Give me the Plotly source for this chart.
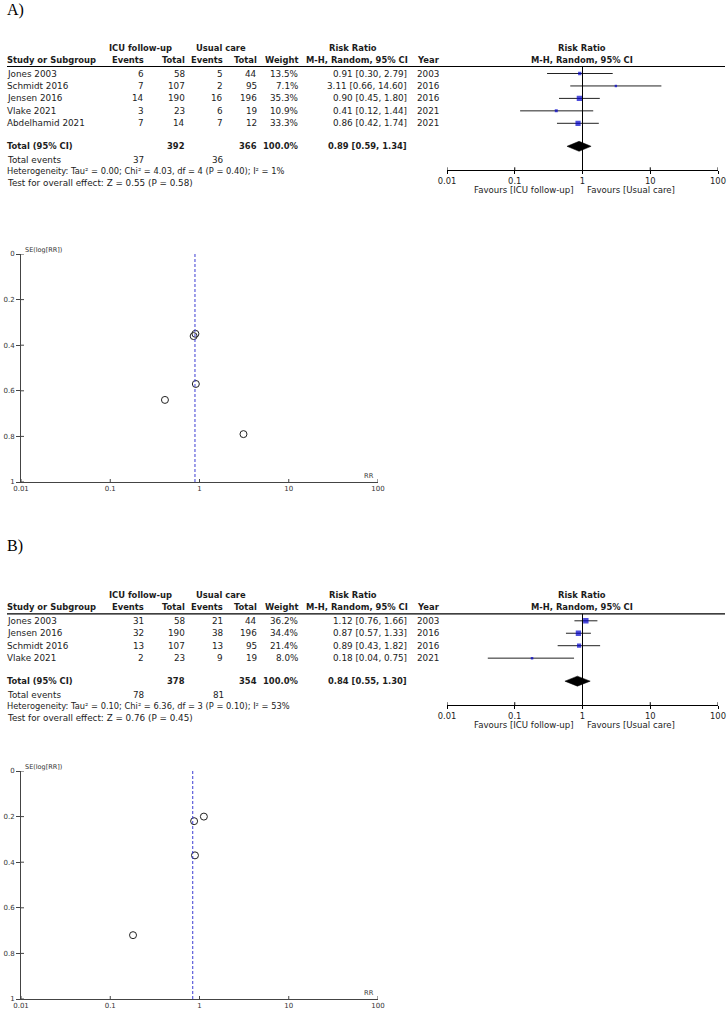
import plotly.graph_objects as go

W, H = 727, 1009

# ---------------- Panel A data ----------------
a_study = ["Jones 2003", "Schmidt 2016", "Jensen 2016", "Vlake 2021", "Abdelhamid 2021"]
a_ev1 = [6, 7, 14, 3, 7]
a_n1 = [58, 107, 190, 23, 14]
a_ev2 = [5, 2, 16, 6, 7]
a_n2 = [44, 95, 196, 19, 12]
a_weight = [13.5, 7.1, 35.3, 10.9, 33.3]
a_rr = [0.91, 3.11, 0.90, 0.41, 0.86]
a_lo = [0.30, 0.66, 0.45, 0.12, 0.42]
a_hi = [2.79, 14.60, 1.80, 1.44, 1.74]
a_year = [2003, 2016, 2016, 2021, 2021]
a_se = [0.57, 0.79, 0.35, 0.64, 0.36]
a_pooled = [0.89, 0.59, 1.34]
a_total_weight = "100.0%"
a_het = "Heterogeneity: Tau² = 0.00; Chi² = 4.03, df = 4 (P = 0.40); I² = 1%"
a_test = "Test for overall effect: Z = 0.55 (P = 0.58)"

# ---------------- Panel B data ----------------
b_study = ["Jones 2003", "Jensen 2016", "Schmidt 2016", "Vlake 2021"]
b_ev1 = [31, 32, 13, 2]
b_n1 = [58, 190, 107, 23]
b_ev2 = [21, 38, 13, 9]
b_n2 = [44, 196, 95, 19]
b_weight = [36.2, 34.4, 21.4, 8.0]
b_rr = [1.12, 0.87, 0.89, 0.18]
b_lo = [0.76, 0.57, 0.43, 0.04]
b_hi = [1.66, 1.33, 1.82, 0.75]
b_year = [2003, 2016, 2016, 2021]
b_se = [0.20, 0.22, 0.37, 0.72]
b_pooled = [0.84, 0.55, 1.30]
b_total_weight = "100.0%"
b_het = "Heterogeneity: Tau² = 0.10; Chi² = 6.36, df = 3 (P = 0.10); I² = 53%"
b_test = "Test for overall effect: Z = 0.76 (P = 0.45)"

# ---------------- Axis ticks ----------------
rr_ticks = [0.01, 0.1, 1, 10, 100]
rr_ticktext = ["0.01", "0.1", "1", "10", "100"]
se_ticks = [0, 0.2, 0.4, 0.6, 0.8, 1]
se_ticktext = ["0", "0.2", "0.4", "0.6", "0.8", "1"]

FONT = "DejaVu Sans"
TXT = "#1c1c1c"
FS = 8.8
FSB = 8.4
BLUE = "#0000cc"

fig = go.Figure()
annotations = []
shapes = []
axes = {}


def add_text(x, y, text, anchor="left", size=None, bold=False, color=TXT, family=FONT):
    if size is None:
        size = FSB if bold else FS
    annotations.append(dict(
        x=x / W, y=1 - y / H, xref="paper", yref="paper",
        text=f"<b>{text}</b>" if bold else text, showarrow=False,
        xanchor=anchor, yanchor="middle", borderpad=0, borderwidth=0,
        font=dict(family=family, size=size, color=color)))


def aname(i, letter):
    return f"{letter}axis" if i == 1 else f"{letter}axis{i}"


def aref(i, letter):
    return letter if i == 1 else f"{letter}{i}"


def build(ia, ib, label, label_y, hdr_y, funnel_top, study, ev1, n1, ev2, n2,
          weight, rr, lo, hi, year, se, pooled, total_weight, het, test):
    line2 = hdr_y + 12.3
    rule_y = hdr_y + 18.8
    rows = [hdr_y + 25.8 + i * 12.45 for i in range(len(study))]
    total_y = rows[-1] + 23
    axis_y = total_y + 24

    add_text(7, label_y, label, size=16, family="Liberation Serif", color="black")

    # header
    add_text(140, hdr_y, "ICU follow-up", "center", bold=True)
    add_text(221, hdr_y, "Usual care", "center", bold=True)
    add_text(353, hdr_y, "Risk Ratio", "center", bold=True)
    add_text(582, hdr_y, "Risk Ratio", "center", bold=True)
    add_text(7, line2, "Study or Subgroup", "left", bold=True)
    add_text(144, line2, "Events", "right", bold=True)
    add_text(185, line2, "Total", "right", bold=True)
    add_text(223, line2, "Events", "right", bold=True)
    add_text(257, line2, "Total", "right", bold=True)
    add_text(298, line2, "Weight", "right", bold=True)
    add_text(357, line2, "M-H, Random, 95% CI", "center", bold=True)
    add_text(417, line2, "Year", "left", bold=True)
    add_text(582, line2, "M-H, Random, 95% CI", "center", bold=True)
    shapes.append(dict(type="line", xref="paper", yref="paper", x0=7 / W, x1=725 / W,
                       y0=1 - rule_y / H, y1=1 - rule_y / H,
                       line=dict(color="black", width=1.2)))

    for i, s in enumerate(study):
        y = rows[i]
        add_text(7, y, s)
        add_text(144, y, str(ev1[i]), "right")
        add_text(185, y, str(n1[i]), "right")
        add_text(223, y, str(ev2[i]), "right")
        add_text(257, y, str(n2[i]), "right")
        add_text(298, y, f"{weight[i]:.1f}%", "right")
        add_text(407, y, f"{rr[i]:.2f} [{lo[i]:.2f}, {hi[i]:.2f}]", "right")
        add_text(417, y, str(year[i]), "left")

    add_text(7, total_y, "Total (95% CI)", bold=True)
    add_text(185, total_y, str(sum(n1)), "right", bold=True)
    add_text(257, total_y, str(sum(n2)), "right", bold=True)
    add_text(298, total_y, total_weight, "right", bold=True)
    add_text(407, total_y, f"{pooled[0]:.2f} [{pooled[1]:.2f}, {pooled[2]:.2f}]", "right", bold=True)
    add_text(7, total_y + 13.5, "Total events")
    add_text(144, total_y + 13.5, str(sum(ev1)), "right")
    add_text(224, total_y + 13.5, str(sum(ev2)), "right")
    add_text(7, total_y + 25, het, size=8.3)
    add_text(7, total_y + 36.5, test)

    # ---------- forest plot ----------
    xf, yf = aref(ia, "x"), aref(ia, "y")
    axes[aname(ia, "x")] = dict(
        type="log", range=[-2, 2], domain=[447 / W, 718 / W], anchor=yf,
        showline=True, linecolor="black", linewidth=1, ticks="outside", ticklen=3,
        tickcolor="black", tickwidth=1, tickvals=rr_ticks, ticktext=rr_ticktext,
        tickfont=dict(family=FONT, size=8.4, color=TXT), showgrid=False, zeroline=False,
        fixedrange=True, automargin=False)
    axes[aname(ia, "y")] = dict(
        range=[axis_y, rule_y], domain=[1 - axis_y / H, 1 - rule_y / H], anchor=xf,
        visible=False, showgrid=False, zeroline=False, fixedrange=True, automargin=False)

    cx, cy = [], []
    for i in range(len(study)):
        cx += [lo[i], hi[i], None]
        cy += [rows[i], rows[i], None]
    fig.add_trace(go.Scatter(x=cx, y=cy, xaxis=xf, yaxis=yf, mode="lines",
                             line=dict(color="#222", width=1), hoverinfo="skip"))
    fig.add_trace(go.Scatter(x=rr, y=rows, xaxis=xf, yaxis=yf, mode="markers",
                             marker=dict(symbol="square", color=BLUE,
                                         size=[0.9 * w ** 0.5 for w in weight],
                                         line=dict(width=0))))
    fig.add_trace(go.Scatter(
        x=[pooled[1], pooled[0], pooled[2], pooled[0], pooled[1]],
        y=[total_y, total_y - 5, total_y, total_y + 5, total_y],
        xaxis=xf, yaxis=yf, mode="lines", fill="toself", fillcolor="black",
        line=dict(color="black", width=0.5), hoverinfo="skip"))
    shapes.append(dict(type="line", xref=xf, yref=f"{yf} domain", x0=1, x1=1, y0=0, y1=1,
                       line=dict(color="black", width=1)))
    for t in rr_ticks:
        shapes.append(dict(type="line", xref=xf, yref=yf, x0=t, x1=t,
                           ysizemode="pixel", yanchor=axis_y, y0=-3, y1=3,
                           line=dict(color="black", width=1)))
    add_text(574, axis_y + 20, "Favours [ICU follow-up]", "right", size=8.6)
    add_text(587, axis_y + 20, "Favours [Usual care]", "left", size=8.6)

    # ---------- funnel plot ----------
    ftop, fbot = funnel_top, funnel_top + 228
    xn, yn = aref(ib, "x"), aref(ib, "y")
    axes[aname(ib, "x")] = dict(
        type="log", range=[-2, 2], domain=[21 / W, 378 / W], anchor=yn,
        showline=True, linecolor="#444", linewidth=1, ticks="",
        tickvals=rr_ticks, ticktext=rr_ticktext, ticklabelstandoff=0,
        tickfont=dict(family=FONT, size=7, color="#333"), showgrid=False, zeroline=False,
        fixedrange=True, automargin=False)
    axes[aname(ib, "y")] = dict(
        range=[1, 0], domain=[1 - fbot / H, 1 - ftop / H], anchor=xn,
        showline=True, linecolor="#444", linewidth=1, ticks="outside", ticklen=4,
        tickcolor="#444", tickwidth=1, tickvals=se_ticks, ticktext=se_ticktext,
        tickfont=dict(family=FONT, size=7, color="#333"), showgrid=False, zeroline=False,
        fixedrange=True, automargin=False)
    for t in rr_ticks:
        shapes.append(dict(type="line", xref=xn, yref=yn, x0=t, x1=t,
                           ysizemode="pixel", yanchor=1, y0=-3, y1=3,
                           line=dict(color="#444", width=1)))
    for t in se_ticks:
        shapes.append(dict(type="line", xref=xn, yref=yn, y0=t, y1=t,
                           xsizemode="pixel", xanchor=0.01, x0=-4, x1=3,
                           line=dict(color="#444", width=1)))
    shapes.append(dict(type="line", xref=xn, yref=f"{yn} domain", x0=pooled[0], x1=pooled[0],
                       y0=0, y1=1, line=dict(color="#3c3cd2", width=1, dash="3px,2px")))
    fig.add_trace(go.Scatter(x=rr, y=se, xaxis=xn, yaxis=yn, mode="markers",
                             marker=dict(symbol="circle-open", size=7, color="#222",
                                         line=dict(width=1, color="#222"))))
    add_text(25, ftop - 4, "SE(log[RR])", "left", size=6.5, color="#333")
    add_text(369, fbot - 6, "RR", "center", size=6.7, color="#333")


build(1, 2, "A)", 10, 47.7, 254, a_study, a_ev1, a_n1, a_ev2, a_n2, a_weight,
      a_rr, a_lo, a_hi, a_year, a_se, a_pooled, a_total_weight, a_het, a_test)
build(3, 4, "B)", 546, 595, 771, b_study, b_ev1, b_n1, b_ev2, b_n2, b_weight,
      b_rr, b_lo, b_hi, b_year, b_se, b_pooled, b_total_weight, b_het, b_test)

fig.update_layout(
    width=W, height=H, autosize=False,
    margin=dict(l=0, r=0, t=0, b=0, pad=0, autoexpand=False),
    paper_bgcolor="white", plot_bgcolor="white",
    showlegend=False, annotations=annotations, shapes=shapes,
    font=dict(family=FONT, color=TXT),
    **axes)

fig.write_html("out.html", config={"displayModeBar": False},
               post_script="document.body.style.margin='0';document.body.style.overflow='hidden';")
